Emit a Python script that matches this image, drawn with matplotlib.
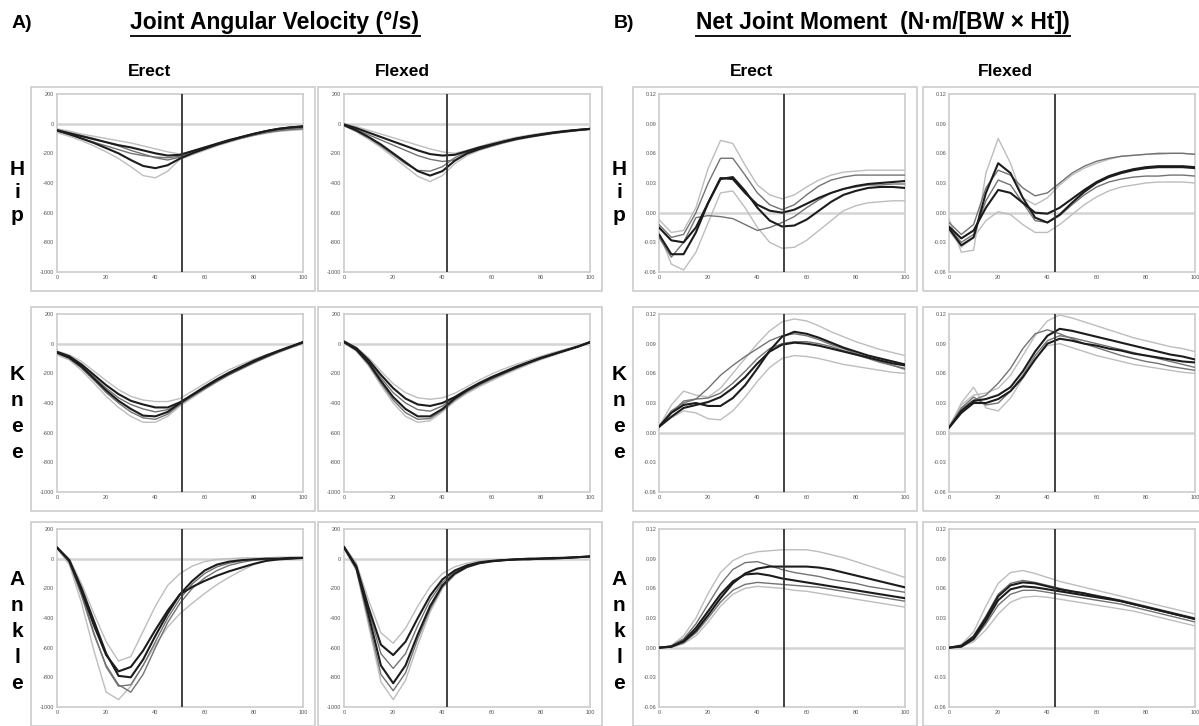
import matplotlib
matplotlib.use("Agg")
import matplotlib.pyplot as plt
from matplotlib.patches import Rectangle
from matplotlib.lines import Line2D

plt.rcParams['font.family'] = ['Liberation Sans', 'DejaVu Sans']

# ----------------------------------------------------------------------
# data (percent of movement cycle)
# curves in each panel: light, light, mid, mid, dark, dark
# ----------------------------------------------------------------------
x_pct = [0, 5, 10, 15, 20, 25, 30, 35, 40, 45, 50, 55, 60, 65, 70, 75, 80, 85, 90, 95, 100]

hip_vel_erect = [
    [-35, -50, -70, -85, -100, -115, -130, -150, -170, -190, -205, -185, -160, -135, -110, -88, -68, -50, -35, -25, -15],
    [-60, -85, -115, -150, -190, -235, -290, -350, -365, -320, -240, -210, -180, -150, -125, -100, -80, -65, -52, -45, -40],
    [-40, -60, -80, -100, -125, -150, -180, -205, -230, -245, -225, -195, -165, -140, -115, -95, -75, -58, -45, -35, -30],
    [-50, -75, -100, -125, -150, -175, -200, -215, -225, -230, -220, -195, -170, -145, -120, -98, -78, -60, -48, -40, -35],
    [-45, -65, -85, -105, -125, -145, -160, -180, -200, -215, -210, -185, -160, -135, -110, -90, -70, -50, -35, -25, -20],
    [-45, -70, -100, -130, -165, -200, -245, -285, -300, -280, -235, -200, -170, -140, -115, -90, -68, -50, -35, -25, -18],
]
hip_vel_flexed = [
    [0, -20, -45, -70, -95, -120, -145, -170, -190, -200, -180, -155, -130, -110, -92, -78, -65, -55, -46, -40, -33],
    [-15, -55, -105, -160, -225, -290, -355, -390, -350, -270, -215, -180, -155, -130, -110, -95, -80, -68, -57, -48, -40],
    [-8, -40, -75, -110, -145, -180, -215, -240, -255, -245, -205, -175, -150, -128, -108, -92, -78, -65, -55, -46, -38],
    [-12, -50, -95, -150, -210, -270, -315, -320, -290, -230, -190, -165, -140, -118, -100, -85, -72, -60, -50, -42, -36],
    [-5, -30, -60, -90, -120, -150, -180, -205, -215, -210, -185, -160, -140, -120, -100, -85, -72, -60, -50, -42, -35],
    [-10, -45, -90, -140, -200, -260, -320, -350, -320, -250, -200, -170, -145, -122, -103, -88, -75, -62, -52, -43, -35],
]
knee_vel_erect = [
    [-50, -75, -120, -185, -250, -310, -355, -380, -390, -390, -370, -320, -270, -220, -175, -140, -105, -75, -45, -15, 15],
    [-75, -110, -180, -265, -355, -430, -490, -530, -530, -490, -420, -365, -310, -260, -210, -170, -130, -95, -60, -30, 0],
    [-58, -90, -150, -225, -300, -365, -410, -440, -460, -445, -405, -355, -305, -255, -210, -170, -130, -92, -58, -25, 5],
    [-65, -100, -165, -245, -330, -400, -460, -500, -510, -475, -410, -355, -300, -250, -205, -165, -125, -88, -55, -25, 5],
    [-55, -85, -140, -210, -280, -340, -385, -410, -430, -430, -395, -345, -295, -245, -200, -160, -120, -85, -50, -20, 10],
    [-60, -95, -155, -235, -315, -385, -440, -485, -490, -460, -400, -345, -290, -240, -195, -155, -115, -80, -50, -20, 10],
]
knee_vel_flexed = [
    [20, -25, -95, -185, -270, -330, -365, -375, -365, -335, -290, -245, -205, -170, -140, -112, -85, -60, -38, -15, 15],
    [5, -50, -150, -280, -400, -490, -530, -520, -460, -390, -335, -290, -250, -210, -175, -140, -108, -80, -52, -25, 5],
    [12, -35, -120, -230, -330, -400, -445, -455, -420, -365, -312, -268, -228, -192, -158, -126, -96, -70, -45, -20, 10],
    [8, -45, -140, -265, -380, -465, -510, -505, -450, -380, -325, -280, -240, -202, -166, -133, -102, -75, -48, -22, 8],
    [15, -30, -110, -210, -300, -370, -410, -420, -400, -360, -310, -265, -225, -190, -155, -125, -95, -70, -45, -20, 10],
    [10, -40, -130, -250, -360, -440, -490, -490, -440, -370, -315, -270, -230, -195, -160, -128, -98, -72, -46, -20, 10],
]
ankle_vel_erect = [
    [80, 0, -170, -370, -560, -690, -660, -490, -320, -180, -100, -50, -20, -5, 0, 5, 5, 5, 10, 10, 10],
    [70, -40, -300, -620, -900, -950, -860, -720, -580, -460, -370, -300, -235, -175, -125, -80, -40, -15, 0, 5, 10],
    [75, -20, -240, -500, -730, -860, -850, -720, -560, -400, -270, -170, -100, -55, -30, -15, -5, 0, 0, 5, 5],
    [78, -25, -250, -510, -720, -850, -900, -780, -600, -430, -300, -200, -130, -80, -45, -25, -10, -5, 0, 0, 5],
    [75, -10, -200, -420, -640, -790, -800, -680, -520, -370, -240, -150, -80, -40, -20, -10, -5, 0, 0, 5, 5],
    [75, -15, -220, -450, -650, -760, -730, -620, -480, -350, -240, -190, -150, -115, -85, -60, -35, -15, -5, 0, 5],
]
ankle_vel_flexed = [
    [85, -30, -280, -500, -570, -470, -320, -190, -100, -55, -30, -15, -10, -5, 0, 0, 5, 5, 10, 10, 15],
    [70, -80, -450, -830, -950, -820, -580, -360, -200, -110, -60, -35, -20, -12, -5, 0, 0, 5, 5, 10, 15],
    [80, -55, -350, -640, -740, -640, -450, -280, -160, -90, -50, -28, -15, -8, -5, 0, 0, 5, 5, 10, 15],
    [75, -70, -420, -780, -890, -770, -540, -340, -190, -105, -58, -32, -18, -10, -5, 0, 0, 5, 8, 10, 15],
    [80, -50, -330, -580, -650, -560, -400, -250, -140, -80, -45, -25, -15, -10, -5, -5, 0, 0, 5, 10, 15],
    [75, -60, -380, -720, -840, -720, -510, -320, -180, -100, -55, -30, -18, -10, -5, 0, 0, 5, 5, 10, 15],
]

hip_mom_erect = [
    [-0.007, -0.020, -0.018, 0.005, 0.045, 0.073, 0.070, 0.048, 0.028, 0.018, 0.014, 0.018, 0.026, 0.033, 0.038, 0.041, 0.042, 0.043, 0.043, 0.043, 0.043],
    [-0.020, -0.052, -0.058, -0.040, -0.010, 0.020, 0.022, 0.005, -0.015, -0.030, -0.036, -0.035, -0.028, -0.018, -0.008, 0.002, 0.007, 0.010, 0.011, 0.012, 0.012],
    [-0.012, -0.025, -0.022, 0.000, 0.030, 0.055, 0.055, 0.038, 0.020, 0.008, 0.003, 0.008, 0.018, 0.027, 0.033, 0.036, 0.038, 0.038, 0.038, 0.038, 0.038],
    [-0.025, -0.045, -0.030, -0.005, -0.003, -0.004, -0.006, -0.012, -0.018, -0.015, -0.010, -0.004, 0.005, 0.013, 0.020, 0.024, 0.026, 0.028, 0.028, 0.029, 0.029],
    [-0.015, -0.028, -0.030, -0.015, 0.010, 0.034, 0.036, 0.022, 0.005, -0.008, -0.014, -0.013, -0.007, 0.002, 0.011, 0.018, 0.022, 0.025, 0.026, 0.026, 0.025],
    [-0.022, -0.042, -0.042, -0.020, 0.010, 0.035, 0.034, 0.020, 0.008, 0.002, 0.000, 0.003, 0.009, 0.015, 0.020, 0.024, 0.027, 0.029, 0.030, 0.031, 0.032],
]
hip_mom_flexed = [
    [-0.006, -0.040, -0.038, 0.040, 0.075, 0.050, 0.015, 0.008, 0.015, 0.028, 0.038, 0.045, 0.050, 0.054, 0.057, 0.058, 0.059, 0.059, 0.060, 0.060, 0.059],
    [-0.018, -0.035, -0.025, -0.008, 0.001, -0.002, -0.012, -0.020, -0.020, -0.012, -0.002, 0.008, 0.016, 0.022, 0.026, 0.028, 0.030, 0.031, 0.031, 0.031, 0.030],
    [-0.010, -0.022, -0.012, 0.025, 0.043, 0.038, 0.025, 0.017, 0.020, 0.030, 0.040, 0.047, 0.052, 0.055, 0.057, 0.058, 0.059, 0.060, 0.060, 0.060, 0.059],
    [-0.015, -0.030, -0.022, 0.012, 0.033, 0.028, 0.010, -0.008, -0.010, -0.003, 0.008, 0.018, 0.026, 0.031, 0.034, 0.036, 0.037, 0.037, 0.038, 0.038, 0.037],
    [-0.014, -0.026, -0.018, 0.005, 0.023, 0.020, 0.010, 0.000, -0.001, 0.005, 0.014, 0.023, 0.031, 0.037, 0.041, 0.044, 0.046, 0.047, 0.047, 0.047, 0.046],
    [-0.016, -0.033, -0.025, 0.020, 0.050, 0.040, 0.015, -0.005, -0.010, -0.002, 0.010, 0.021, 0.030, 0.036, 0.040, 0.043, 0.045, 0.046, 0.046, 0.046, 0.045],
]
knee_mom_erect = [
    [0.006, 0.028, 0.042, 0.038, 0.036, 0.045, 0.060, 0.075, 0.090, 0.103, 0.112, 0.115, 0.113, 0.108, 0.102, 0.097, 0.092, 0.088, 0.084, 0.081, 0.078],
    [0.005, 0.015, 0.022, 0.020, 0.014, 0.013, 0.022, 0.036, 0.052, 0.066, 0.075, 0.078, 0.077, 0.075, 0.072, 0.069, 0.067, 0.065, 0.063, 0.061, 0.060],
    [0.006, 0.022, 0.030, 0.034, 0.045, 0.058, 0.068, 0.077, 0.085, 0.093, 0.098, 0.100, 0.098, 0.094, 0.089, 0.085, 0.080, 0.076, 0.072, 0.068, 0.064],
    [0.006, 0.020, 0.032, 0.034, 0.035, 0.040, 0.050, 0.062, 0.075, 0.085, 0.090, 0.092, 0.092, 0.090, 0.087, 0.083, 0.079, 0.075, 0.071, 0.068, 0.065],
    [0.006, 0.020, 0.028, 0.030, 0.027, 0.027, 0.035, 0.048, 0.065, 0.083, 0.097, 0.102, 0.100, 0.096, 0.091, 0.086, 0.082, 0.078, 0.075, 0.072, 0.069],
    [0.006, 0.016, 0.025, 0.028, 0.031, 0.036, 0.045, 0.056, 0.070, 0.082, 0.089, 0.091, 0.090, 0.088, 0.085, 0.082, 0.079, 0.076, 0.073, 0.070, 0.068],
]
knee_mom_flexed = [
    [0.006, 0.028, 0.038, 0.040, 0.045, 0.058, 0.078, 0.098, 0.113, 0.119, 0.116, 0.112, 0.108, 0.104, 0.100, 0.096, 0.093, 0.090, 0.087, 0.085, 0.082],
    [0.005, 0.030, 0.046, 0.025, 0.022, 0.035, 0.055, 0.075, 0.088, 0.090, 0.086, 0.082, 0.078, 0.075, 0.072, 0.069, 0.067, 0.065, 0.063, 0.061, 0.060],
    [0.005, 0.025, 0.036, 0.028, 0.030, 0.042, 0.058, 0.078, 0.093, 0.098, 0.096, 0.093, 0.090, 0.087, 0.084, 0.081, 0.078, 0.075, 0.072, 0.069, 0.066],
    [0.006, 0.024, 0.033, 0.038, 0.050, 0.065, 0.085, 0.100, 0.104, 0.100, 0.095, 0.090, 0.086, 0.082, 0.078, 0.075, 0.072, 0.070, 0.067, 0.065, 0.063],
    [0.005, 0.022, 0.032, 0.034, 0.038, 0.046, 0.062, 0.082, 0.098, 0.105, 0.103, 0.100, 0.097, 0.094, 0.091, 0.088, 0.085, 0.082, 0.079, 0.077, 0.074],
    [0.005, 0.020, 0.030, 0.030, 0.034, 0.042, 0.056, 0.074, 0.090, 0.095, 0.093, 0.090, 0.088, 0.085, 0.083, 0.080, 0.078, 0.076, 0.074, 0.072, 0.071],
]
ankle_mom_erect = [
    [0.000, 0.002, 0.012, 0.030, 0.055, 0.076, 0.088, 0.094, 0.097, 0.098, 0.099, 0.099, 0.099, 0.097, 0.094, 0.091, 0.087, 0.083, 0.079, 0.075, 0.071],
    [0.000, 0.000, 0.004, 0.012, 0.026, 0.042, 0.054, 0.060, 0.062, 0.061, 0.060, 0.058, 0.057, 0.055, 0.053, 0.051, 0.049, 0.047, 0.045, 0.043, 0.041],
    [0.000, 0.002, 0.009, 0.024, 0.044, 0.064, 0.079, 0.086, 0.087, 0.083, 0.079, 0.076, 0.074, 0.072, 0.069, 0.067, 0.065, 0.062, 0.060, 0.058, 0.056],
    [0.000, 0.001, 0.005, 0.015, 0.030, 0.046, 0.058, 0.064, 0.066, 0.065, 0.064, 0.063, 0.062, 0.061, 0.059, 0.057, 0.055, 0.053, 0.051, 0.049, 0.047],
    [0.000, 0.001, 0.007, 0.020, 0.037, 0.054, 0.067, 0.074, 0.075, 0.073, 0.070, 0.068, 0.066, 0.064, 0.062, 0.060, 0.058, 0.056, 0.054, 0.052, 0.050],
    [0.000, 0.001, 0.006, 0.017, 0.033, 0.050, 0.065, 0.075, 0.080, 0.082, 0.082, 0.082, 0.082, 0.081, 0.079, 0.076, 0.073, 0.070, 0.067, 0.064, 0.061],
]
ankle_mom_flexed = [
    [0.000, 0.003, 0.016, 0.042, 0.065, 0.076, 0.078, 0.075, 0.071, 0.067, 0.064, 0.061, 0.058, 0.055, 0.052, 0.049, 0.046, 0.043, 0.040, 0.037, 0.034],
    [0.000, 0.001, 0.006, 0.018, 0.034, 0.046, 0.051, 0.052, 0.051, 0.049, 0.047, 0.045, 0.043, 0.041, 0.039, 0.037, 0.034, 0.031, 0.028, 0.025, 0.022],
    [0.000, 0.002, 0.012, 0.032, 0.054, 0.065, 0.068, 0.066, 0.063, 0.060, 0.057, 0.055, 0.053, 0.050, 0.048, 0.045, 0.042, 0.039, 0.036, 0.033, 0.030],
    [0.000, 0.001, 0.008, 0.024, 0.043, 0.054, 0.058, 0.058, 0.056, 0.054, 0.052, 0.050, 0.048, 0.046, 0.044, 0.041, 0.038, 0.035, 0.032, 0.029, 0.026],
    [0.000, 0.001, 0.009, 0.027, 0.048, 0.059, 0.062, 0.061, 0.059, 0.057, 0.055, 0.053, 0.051, 0.049, 0.047, 0.044, 0.041, 0.038, 0.035, 0.032, 0.029],
    [0.000, 0.002, 0.011, 0.030, 0.052, 0.063, 0.066, 0.065, 0.062, 0.059, 0.057, 0.055, 0.052, 0.050, 0.047, 0.044, 0.041, 0.038, 0.035, 0.032, 0.029],
]

# event marker (vertical line), % of cycle
vel_event = [51, 42]
mom_event = [51, 43]

vel_ticks = [-1000, -800, -600, -400, -200, 0, 200]
mom_ticks = [-0.06, -0.03, 0.00, 0.03, 0.06, 0.09, 0.12]
x_ticks = [0, 20, 40, 60, 80, 100]

joints = ['Hip', 'Knee', 'Ankle']
postures = ['Erect', 'Flexed']

curve_colors = ['#bdbdbd', '#bdbdbd', '#737373', '#737373', '#1c1c1c', '#1c1c1c']
curve_widths = [1.0, 1.0, 1.0, 1.0, 1.5, 1.5]

# ----------------------------------------------------------------------
# layout (pixels of a 1199 x 726 image)
# ----------------------------------------------------------------------
W, H = 1199, 726
col_left = [57, 344, 659, 949]
row_top = [94, 314, 529]
ax_w, ax_h = 246, 178
letter_first = [175, 380, 585]
letter_step = [23, 26, 26]

fig = plt.figure(figsize=(W / 100, H / 100), dpi=100)


def fx(px):
    return px / W


def fy(py):
    return 1 - py / H


def draw_panel(ax, curves, event, yticks, ylabels, ylim):
    for c, col, lw in zip(curves, curve_colors, curve_widths):
        ax.plot(x_pct, c, color=col, lw=lw, solid_capstyle='round',
                solid_joinstyle='round', zorder=3)
    ax.axhline(0, color='#d4d4d4', lw=1.8, zorder=1)
    ax.axvline(event, color='#333333', lw=1.3, zorder=4)
    ax.set_xlim(0, 100)
    ax.set_ylim(*ylim)
    ax.set_xticks(x_ticks)
    ax.set_xticklabels([str(v) for v in x_ticks])
    ax.set_yticks(yticks)
    ax.set_yticklabels(ylabels)
    ax.tick_params(length=0, labelsize=4, colors='#555555', pad=2)
    for s in ax.spines.values():
        s.set_color('#cccccc')
        s.set_linewidth(1.2)


panel_data = [
    [hip_vel_erect, hip_vel_flexed, hip_mom_erect, hip_mom_flexed],
    [knee_vel_erect, knee_vel_flexed, knee_mom_erect, knee_mom_flexed],
    [ankle_vel_erect, ankle_vel_flexed, ankle_mom_erect, ankle_mom_flexed],
]

vel_labels = [str(v) for v in vel_ticks]
mom_labels = ['%.2f' % v for v in mom_ticks]

for r in range(3):
    for c in range(4):
        l, t = col_left[c], row_top[r]
        # outer chart-area box
        fig.add_artist(Rectangle((fx(l - 26), fy(t + ax_h + 19)), (ax_w + 38) / W, (ax_h + 26) / H,
                                 transform=fig.transFigure, fill=False, ec='#cccccc', lw=1.2))
        ax = fig.add_axes([fx(l), fy(t + ax_h), ax_w / W, ax_h / H])
        if c < 2:
            draw_panel(ax, panel_data[r][c], vel_event[c], vel_ticks, vel_labels, (-1000, 200))
        else:
            draw_panel(ax, panel_data[r][c], mom_event[c - 2], mom_ticks, mom_labels, (-0.06, 0.12))

    # joint name written vertically, one letter per line
    for side_x in [17, 619]:
        for i, ch in enumerate(joints[r]):
            fig.text(fx(side_x), fy(letter_first[r] + i * letter_step[r]), ch,
                     ha='center', va='baseline', fontsize=15, fontweight='bold')

# titles
fig.text(fx(12), fy(24), 'A)', ha='left', va='center', fontsize=14, fontweight='bold')
fig.text(fx(614), fy(24), 'B)', ha='left', va='center', fontsize=14, fontweight='bold')
t1 = fig.text(fx(275), fy(23), 'Joint Angular Velocity (°/s)', ha='center', va='center',
              fontsize=16.5, fontweight='bold')
t2 = fig.text(fx(883), fy(23), 'Net Joint Moment  (N·m/[BW × Ht])', ha='center', va='center',
              fontsize=16.5, fontweight='bold')

for xc, lab in zip([150, 402, 752, 1005], postures * 2):
    fig.text(fx(xc), fy(72), lab, ha='center', va='center', fontsize=12.5, fontweight='bold')

# underline the two titles
fig.canvas.draw()
rend = fig.canvas.get_renderer()
for t in (t1, t2):
    bb = t.get_window_extent(rend).transformed(fig.transFigure.inverted())
    fig.add_artist(Line2D([bb.x0, bb.x1], [bb.y0 - 1.0 / H, bb.y0 - 1.0 / H],
                          transform=fig.transFigure, color='#111111', lw=1.4))

fig.savefig('out.png', dpi=100)
